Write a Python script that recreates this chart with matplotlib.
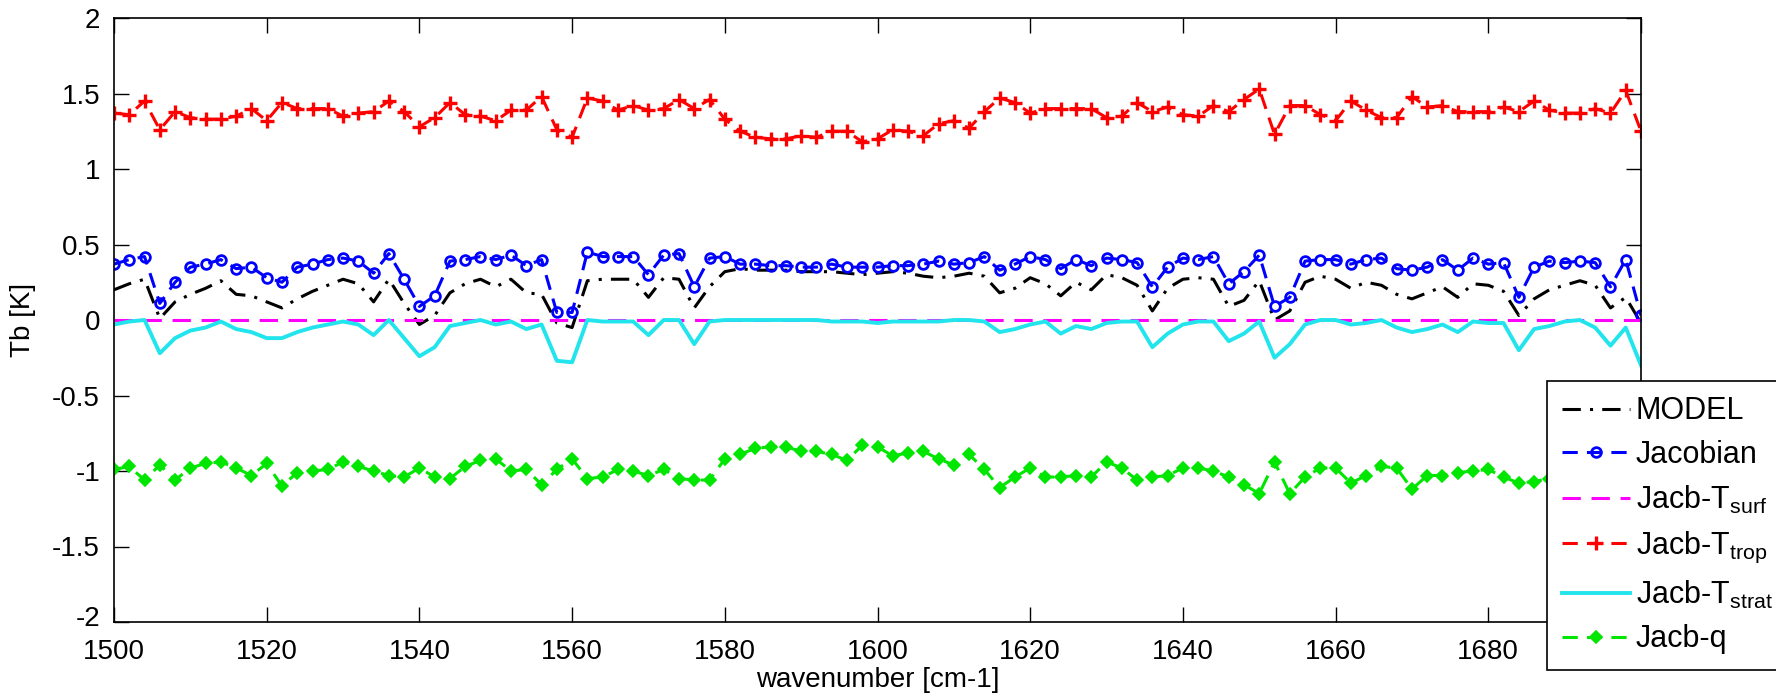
import numpy as np
import matplotlib
matplotlib.use('Agg')
import matplotlib.pyplot as plt
from matplotlib.transforms import ScaledTranslation

plt.rcParams['font.family'] = ['Liberation Sans', 'DejaVu Sans']
plt.rcParams['mathtext.fontset'] = 'custom'
plt.rcParams['mathtext.rm'] = 'Liberation Sans'
plt.rcParams['axes.unicode_minus'] = False

# channel wavenumbers [cm-1]
wavenumber = np.arange(1500, 1701, 2)

# Tb differences [K]
model = [0.20, 0.24, 0.27, 0.01, 0.12, 0.17, 0.21, 0.26, 0.17, 0.16,
         0.12, 0.08, 0.14, 0.19, 0.23, 0.27, 0.24, 0.12, 0.27, 0.11,
         -0.03, 0.03, 0.18, 0.24, 0.27, 0.22, 0.27, 0.18, 0.17, -0.02,
         -0.05, 0.26, 0.27, 0.27, 0.27, 0.15, 0.28, 0.27, 0.08, 0.22,
         0.32, 0.34, 0.33, 0.33, 0.33, 0.32, 0.32, 0.32, 0.31, 0.30,
         0.31, 0.32, 0.31, 0.29, 0.28, 0.29, 0.31, 0.29, 0.18, 0.21,
         0.28, 0.24, 0.16, 0.25, 0.20, 0.30, 0.28, 0.23, 0.06, 0.21,
         0.27, 0.28, 0.27, 0.09, 0.13, 0.26, 0.00, 0.06, 0.25, 0.29,
         0.27, 0.21, 0.25, 0.23, 0.17, 0.14, 0.18, 0.22, 0.15, 0.24,
         0.23, 0.19, 0.03, 0.14, 0.20, 0.23, 0.26, 0.23, 0.08, 0.15,
         -0.02]

jacobian = [0.37, 0.40, 0.42, 0.11, 0.25, 0.35, 0.37, 0.40, 0.34, 0.35,
            0.28, 0.25, 0.35, 0.37, 0.40, 0.41, 0.39, 0.31, 0.44, 0.27,
            0.09, 0.16, 0.39, 0.40, 0.42, 0.40, 0.43, 0.36, 0.40, 0.05,
            0.05, 0.45, 0.42, 0.42, 0.42, 0.30, 0.43, 0.44, 0.22, 0.41,
            0.42, 0.37, 0.37, 0.36, 0.36, 0.35, 0.35, 0.37, 0.35, 0.35,
            0.35, 0.36, 0.36, 0.37, 0.39, 0.37, 0.38, 0.42, 0.33, 0.37,
            0.42, 0.40, 0.34, 0.40, 0.36, 0.41, 0.40, 0.38, 0.22, 0.35,
            0.41, 0.40, 0.42, 0.24, 0.32, 0.43, 0.09, 0.15, 0.39, 0.40,
            0.40, 0.37, 0.40, 0.41, 0.34, 0.33, 0.35, 0.40, 0.33, 0.41,
            0.37, 0.38, 0.15, 0.35, 0.39, 0.38, 0.39, 0.38, 0.22, 0.40,
            0.03]

jacb_tsurf = [0.0] * 101

jacb_ttrop = [1.37, 1.36, 1.45, 1.26, 1.38, 1.34, 1.33, 1.33, 1.35, 1.40,
              1.32, 1.44, 1.40, 1.40, 1.40, 1.35, 1.37, 1.38, 1.45, 1.38,
              1.28, 1.34, 1.44, 1.36, 1.35, 1.32, 1.39, 1.39, 1.48, 1.26,
              1.21, 1.47, 1.45, 1.39, 1.42, 1.39, 1.40, 1.46, 1.40, 1.46,
              1.33, 1.25, 1.21, 1.20, 1.20, 1.22, 1.21, 1.25, 1.25, 1.18,
              1.20, 1.26, 1.25, 1.22, 1.30, 1.32, 1.27, 1.38, 1.47, 1.44,
              1.37, 1.40, 1.40, 1.40, 1.40, 1.34, 1.35, 1.44, 1.38, 1.41,
              1.36, 1.35, 1.42, 1.38, 1.46, 1.53, 1.23, 1.42, 1.42, 1.36,
              1.32, 1.45, 1.39, 1.34, 1.34, 1.48, 1.41, 1.42, 1.38, 1.38,
              1.38, 1.41, 1.38, 1.45, 1.39, 1.37, 1.37, 1.40, 1.37, 1.52,
              1.25]

jacb_tstrat = [-0.03, -0.01, 0.00, -0.22, -0.12, -0.07, -0.05, -0.01, -0.06, -0.08,
               -0.12, -0.12, -0.08, -0.05, -0.03, -0.01, -0.03, -0.10, 0.00, -0.12,
               -0.24, -0.18, -0.04, -0.02, 0.00, -0.03, -0.01, -0.06, -0.03, -0.27,
               -0.28, 0.00, -0.01, -0.01, -0.01, -0.10, 0.00, 0.00, -0.16, -0.01,
               0.00, 0.00, 0.00, 0.00, 0.00, 0.00, 0.00, -0.01, -0.01, -0.01,
               -0.02, -0.01, -0.01, -0.01, -0.01, 0.00, 0.00, -0.01, -0.08, -0.06,
               -0.03, -0.01, -0.09, -0.04, -0.06, -0.02, -0.01, -0.01, -0.18, -0.09,
               -0.03, -0.01, -0.01, -0.14, -0.09, -0.01, -0.25, -0.16, -0.03, 0.00,
               0.00, -0.03, -0.02, 0.00, -0.05, -0.08, -0.06, -0.03, -0.08, -0.01,
               -0.02, -0.02, -0.20, -0.06, -0.04, -0.01, 0.00, -0.05, -0.17, -0.05,
               -0.30]

jacb_q = [-0.99, -0.97, -1.06, -0.96, -1.06, -0.98, -0.95, -0.94, -0.98, -1.03,
          -0.95, -1.10, -1.01, -1.00, -0.99, -0.94, -0.97, -1.00, -1.03, -1.04,
          -0.98, -1.04, -1.05, -0.97, -0.93, -0.92, -1.00, -0.99, -1.09, -0.99,
          -0.92, -1.05, -1.04, -0.99, -1.00, -1.03, -0.99, -1.05, -1.06, -1.06,
          -0.92, -0.89, -0.85, -0.84, -0.84, -0.87, -0.87, -0.89, -0.93, -0.83,
          -0.84, -0.90, -0.88, -0.87, -0.92, -0.96, -0.89, -0.99, -1.11, -1.04,
          -0.98, -1.04, -1.04, -1.03, -1.04, -0.94, -0.98, -1.06, -1.04, -1.03,
          -0.98, -0.98, -1.00, -1.04, -1.09, -1.15, -0.94, -1.15, -1.04, -0.98,
          -0.98, -1.08, -1.03, -0.97, -0.98, -1.12, -1.03, -1.03, -1.01, -1.00,
          -0.99, -1.04, -1.08, -1.07, -1.05, -1.00, -1.02, -0.99, -1.03, -1.00,
          -1.02]

xtick_labels = ['1500', '1520', '1540', '1560', '1580', '1600',
                '1620', '1640', '1660', '1680', '']  # 1700 sits under the legend
ytick_labels = ['-2', '-1.5', '-1', '-0.5', '0', '0.5', '1', '1.5', '2']

fig = plt.figure(figsize=(17.76, 6.97), dpi=100)
ax = fig.add_axes([114 / 1776, 1 - 622 / 697, (1641 - 114) / 1776, (622 - 18) / 697])

lw = 2.2
h1, = ax.plot(wavenumber, model, color='k', lw=lw, dashes=(6, 3, 1, 3))
h2, = ax.plot(wavenumber, jacobian, color='#0000ff', lw=lw, dashes=(5, 3),
              marker='o', ms=7, mfc='none', mew=2)
h3, = ax.plot(wavenumber, jacb_tsurf, color='#ff00ff', lw=lw, dashes=(6, 3.5))
h4, = ax.plot(wavenumber, jacb_ttrop, color='#ff0000', lw=lw, dashes=(5, 3),
              marker='+', ms=10, mew=2.4)
h5, = ax.plot(wavenumber, jacb_tstrat, color='#22e4ec', lw=lw + 0.6)
h6, = ax.plot(wavenumber, jacb_q, color='#00e600', lw=lw, dashes=(5, 3),
              marker='D', ms=6, mfc='#00e600', mew=1.2)

ax.set_xlim(1500, 1700)
ax.set_ylim(-2, 2)
ax.set_xticks(np.arange(1500, 1701, 20))
ax.set_xticklabels(xtick_labels)
ax.set_yticks([-2, -1.5, -1, -0.5, 0, 0.5, 1, 1.5, 2])
ax.set_yticklabels(ytick_labels)
ax.tick_params(direction='in', length=11, width=1, top=True, right=True,
               labelsize=20)
ax.tick_params(axis='x', pad=12)
ax.tick_params(axis='y', pad=10)
for s in ax.spines.values():
    s.set_linewidth(1.2)

# lift the lowest y label a little, as in the original
lowest = ax.get_yticklabels()[0]
lowest.set_transform(lowest.get_transform() + ScaledTranslation(0, 4 / 72, fig.dpi_scale_trans))

ax.set_xlabel('wavenumber [cm-1]', fontsize=20, labelpad=2)
ax.set_ylabel('Tb [K]', fontsize=20, labelpad=12)

labels = ['MODEL', 'Jacobian', r'Jacb-T$_{\rm surf}$', r'Jacb-T$_{\rm trop}$',
          r'Jacb-T$_{\rm strat}$', 'Jacb-q']
leg = fig.legend([h1, h2, h3, h4, h5, h6], labels, loc='upper left',
                 bbox_to_anchor=(1547 / 1776, 1 - 381 / 697),
                 bbox_transform=fig.transFigure, fontsize=22, frameon=True,
                 fancybox=False, edgecolor='black', framealpha=1,
                 borderaxespad=0, handlelength=2.2, handletextpad=0.2,
                 labelspacing=0.45, borderpad=0.5)
leg.get_frame().set_linewidth(1.2)

plt.savefig('out.png', dpi=100)
